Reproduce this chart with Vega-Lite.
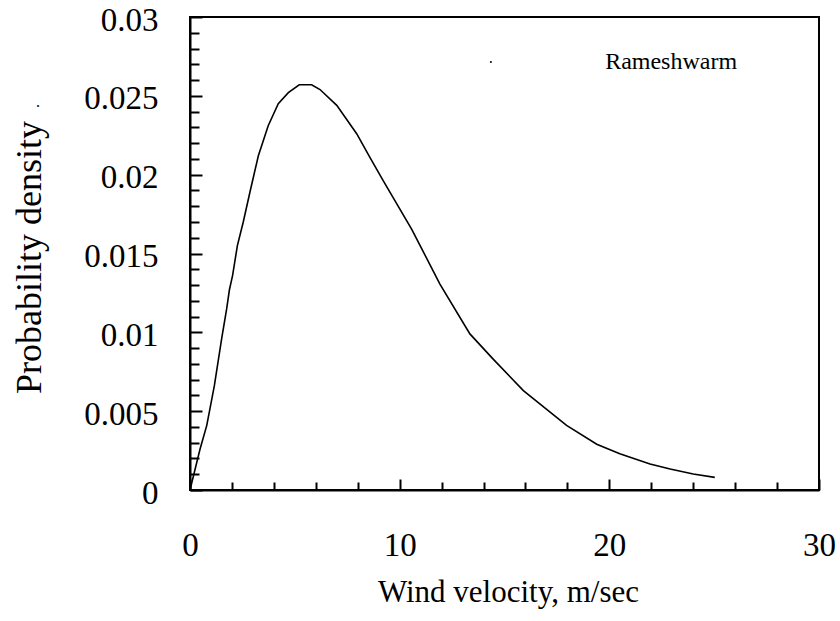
{
  "$schema": "https://vega.github.io/schema/vega-lite/v6.json",
  "width": 629,
  "height": 473,
  "autosize": "none",
  "padding": {"left": 190, "top": 17, "right": 21, "bottom": 131},
  "background": "white",
  "config": {
    "view": {"stroke": "black", "strokeWidth": 2},
    "font": "Liberation Serif",
    "text": {"font": "Liberation Serif"},
    "axis": {
      "domainColor": "black",
      "domainWidth": 2,
      "tickColor": "black",
      "tickWidth": 2,
      "labelColor": "black",
      "titleColor": "black",
      "labelFont": "Liberation Serif",
      "titleFont": "Liberation Serif",
      "labelFontSize": 33,
      "titleFontSize": 33,
      "titleFontWeight": "normal",
      "grid": false
    }
  },
  "layer": [
    {
      "data": {
        "values": [
          {"v": 0, "d": 0},
          {"v": 0.48, "d": 0.0026},
          {"v": 0.8, "d": 0.0041},
          {"v": 1.16, "d": 0.0066},
          {"v": 1.51, "d": 0.0096},
          {"v": 1.75, "d": 0.0115},
          {"v": 1.88, "d": 0.0127},
          {"v": 2.03, "d": 0.0136},
          {"v": 2.26, "d": 0.0155},
          {"v": 2.54, "d": 0.017},
          {"v": 2.86, "d": 0.0189},
          {"v": 3.26, "d": 0.0212},
          {"v": 3.73, "d": 0.0231},
          {"v": 4.21, "d": 0.0245},
          {"v": 4.69, "d": 0.0252},
          {"v": 5.21, "d": 0.0257},
          {"v": 5.8, "d": 0.0257},
          {"v": 6.2, "d": 0.0254},
          {"v": 7.0, "d": 0.0244},
          {"v": 7.95, "d": 0.0226},
          {"v": 8.58, "d": 0.0211},
          {"v": 9.22, "d": 0.0196},
          {"v": 10.57, "d": 0.01655},
          {"v": 11.92, "d": 0.01306},
          {"v": 13.35, "d": 0.0099},
          {"v": 14.46, "d": 0.0083},
          {"v": 15.9, "d": 0.0063},
          {"v": 17.96, "d": 0.0041},
          {"v": 19.4, "d": 0.0029},
          {"v": 20.5, "d": 0.0023},
          {"v": 21.94, "d": 0.00165},
          {"v": 22.9, "d": 0.00133},
          {"v": 24.0, "d": 0.00101},
          {"v": 25.03, "d": 0.0008}
        ]
      },
      "mark": {"type": "line", "color": "black", "strokeWidth": 1.6},
      "encoding": {
        "x": {
          "field": "v",
          "type": "quantitative",
          "scale": {"domain": [0, 30], "nice": false, "zero": false},
          "axis": {
            "title": "Wind velocity, m/sec",
            "values": [0, 2, 4, 6, 8, 10, 12, 14, 16, 18, 20, 22, 24, 26, 28, 30],
            "tickCount": 100,
            "labelExpr": "round(datum.value) % 10 == 0 ? format(datum.value, 'd') : ''",
            "tickSize": {"condition": {"test": "round(datum.value) % 10 == 0", "value": -11}, "value": -8},
            "labelPadding": 50,
            "labelBaseline": "top",
            "labelFlush": false,
            "labelOverlap": false,
            "titleFontSize": 31,
            "titleX": 318,
            "titleY": 111,
            "titleAlign": "center",
            "titleBaseline": "alphabetic"
          }
        },
        "y": {
          "field": "d",
          "type": "quantitative",
          "scale": {"domain": [0, 0.03], "nice": false, "zero": false},
          "axis": {
            "title": "Probability density",
            "values": [0, 0.001, 0.002, 0.003, 0.004, 0.005, 0.006, 0.007, 0.008, 0.009, 0.01, 0.011, 0.012, 0.013, 0.014, 0.015, 0.016, 0.017, 0.018, 0.019, 0.02, 0.021, 0.022, 0.023, 0.024, 0.025, 0.026, 0.027, 0.028, 0.029, 0.03],
            "tickCount": 100,
            "labelExpr": "abs(round(datum.value * 1000) % 5) == 0 ? format(datum.value, '.3~f') : ''",
            "tickSize": {"condition": {"test": "abs(round(datum.value * 1000) % 5) == 0", "value": -12}, "value": -9},
            "labelPadding": 44,
            "labelOffset": 3,
            "labelFlush": false,
            "labelOverlap": false,
            "titleFontSize": 36,
            "titleX": -150,
            "titleY": 240,
            "titleAngle": 270,
            "titleAlign": "center",
            "titleBaseline": "alphabetic"
          }
        }
      }
    },
    {
      "data": {"values": [{"v": 14.35, "d": 0.02714}]},
      "mark": {"type": "point", "filled": true, "color": "black", "size": 4, "opacity": 1},
      "encoding": {
        "x": {"field": "v", "type": "quantitative"},
        "y": {"field": "d", "type": "quantitative"}
      }
    },
    {
      "data": {"values": [{"v": 19.8, "d": 0.02714, "label": "Rameshwarm"}]},
      "mark": {"type": "text", "align": "left", "baseline": "middle", "font": "Liberation Serif", "fontSize": 24, "color": "black"},
      "encoding": {
        "x": {"field": "v", "type": "quantitative"},
        "y": {"field": "d", "type": "quantitative"},
        "text": {"field": "label"}
      }
    },
    {
      "data": {"values": [{"v": -7.25, "d": 0.02429, "label": "."}]},
      "mark": {"type": "text", "align": "center", "baseline": "alphabetic", "font": "Liberation Serif", "fontSize": 16, "color": "black", "clip": false},
      "encoding": {
        "x": {"field": "v", "type": "quantitative"},
        "y": {"field": "d", "type": "quantitative"},
        "text": {"field": "label"}
      }
    }
  ]
}
